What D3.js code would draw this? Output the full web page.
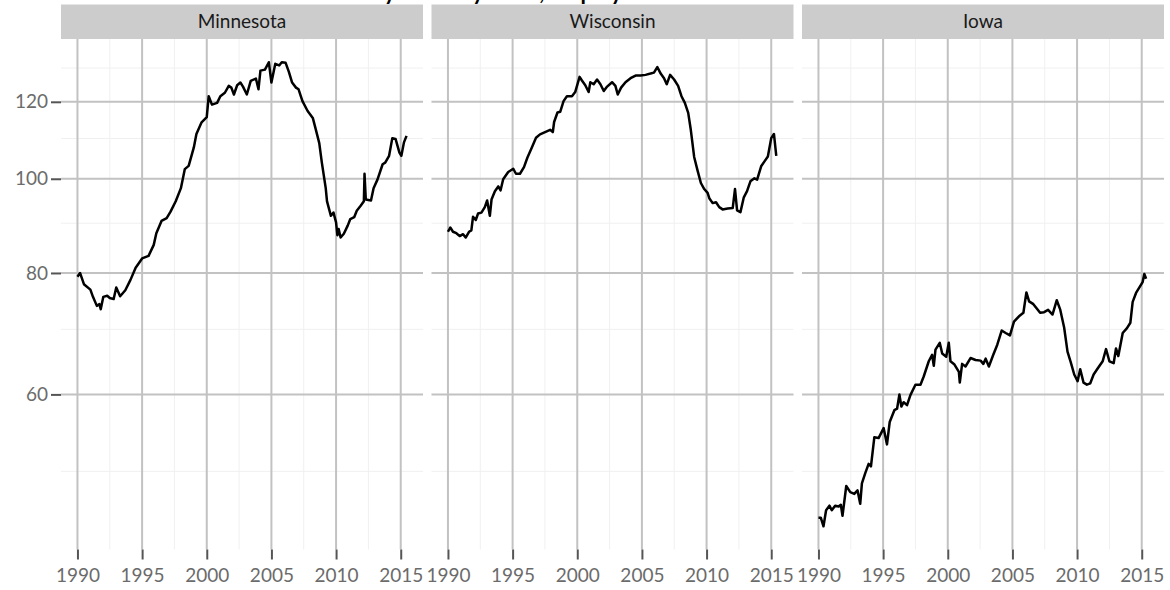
<!DOCTYPE html>
<html>
<head>
<meta charset="utf-8">
<script src="https://cdn.jsdelivr.net/npm/d3@7"></script>
<style>
  body { margin: 0; background: #fff; }
  text { font-family: Lato, "Open Sans", sans-serif; }
</style>
</head>
<body>
<svg id="chart" width="1170" height="590"></svg>
<script>
// chart data (year, value)
const states = ["Minnesota", "Wisconsin", "Iowa"];

const minnesota = [
  [1990.0, 79.3], [1990.2, 80.0], [1990.5, 77.9], [1991.0, 76.9], [1991.2, 75.6], [1991.5, 74.0],
  [1991.7, 74.3], [1991.8, 73.4], [1992.0, 75.6], [1992.3, 75.8], [1992.5, 75.4], [1992.8, 75.2],
  [1993.0, 77.3], [1993.3, 75.7], [1993.7, 76.8], [1994.1, 78.7], [1994.5, 81.0], [1995.0, 82.8],
  [1995.5, 83.3], [1995.9, 85.5], [1996.1, 87.9], [1996.5, 90.5], [1996.9, 91.1], [1997.2, 92.5],
  [1997.6, 94.8], [1998.0, 97.8], [1998.3, 102.3], [1998.6, 103.1], [1999.0, 107.7], [1999.2, 111.2],
  [1999.6, 114.3], [2000.0, 115.7], [2000.15, 121.6], [2000.4, 119.2], [2000.8, 119.7], [2001.05, 121.6],
  [2001.4, 122.6], [2001.7, 124.6], [2001.9, 124.1], [2002.1, 122.1], [2002.35, 124.8], [2002.6, 125.6],
  [2002.8, 124.4], [2003.1, 122.1], [2003.4, 126.1], [2003.8, 126.8], [2004.0, 123.6], [2004.15, 129.2],
  [2004.5, 129.5], [2004.8, 131.8], [2005.0, 125.6], [2005.3, 131.3], [2005.6, 130.8], [2005.8, 131.8],
  [2006.1, 131.6], [2006.35, 128.8], [2006.6, 125.6], [2006.9, 124.1], [2007.1, 123.6], [2007.4, 120.2],
  [2007.8, 117.4], [2008.2, 115.5], [2008.4, 112.8], [2008.7, 108.8], [2008.9, 103.9], [2009.2, 97.8],
  [2009.3, 94.8], [2009.6, 91.6], [2009.8, 92.3], [2010.0, 90.2], [2010.1, 87.5], [2010.2, 88.8],
  [2010.35, 87.0], [2010.6, 87.8], [2010.9, 89.5], [2011.1, 90.9], [2011.4, 91.3], [2011.6, 92.7],
  [2011.9, 93.8], [2012.15, 94.8], [2012.2, 101.2], [2012.3, 95.2], [2012.7, 95.0], [2012.9, 97.8],
  [2013.2, 99.8], [2013.6, 103.5], [2013.8, 103.9], [2014.1, 105.6], [2014.35, 110.1], [2014.6, 109.9],
  [2014.9, 106.4], [2015.05, 105.6], [2015.25, 109.0], [2015.45, 110.7]
];

const wisconsin = [
  [1990.0, 88.2], [1990.18, 89.1], [1990.39, 88.2], [1990.65, 87.9], [1990.91, 87.3], [1991.17, 87.7],
  [1991.37, 87.0], [1991.63, 88.2], [1991.81, 88.5], [1991.94, 91.4], [1992.15, 90.7], [1992.33, 92.1],
  [1992.59, 92.3], [1992.85, 93.5], [1993.03, 95.0], [1993.24, 91.6], [1993.37, 95.2], [1993.63, 97.1],
  [1993.89, 98.2], [1994.07, 97.3], [1994.27, 99.9], [1994.66, 101.6], [1995.05, 102.4], [1995.26, 101.2],
  [1995.57, 101.2], [1995.88, 102.8], [1996.14, 105.1], [1996.48, 107.6], [1996.81, 110.2], [1997.12, 111.1],
  [1997.51, 111.7], [1997.9, 112.3], [1998.11, 111.7], [1998.21, 114.4], [1998.47, 117.0], [1998.68, 117.2],
  [1998.94, 120.2], [1999.2, 121.6], [1999.59, 121.6], [1999.84, 122.8], [2000.18, 127.3], [2000.36, 126.2],
  [2000.62, 124.8], [2000.88, 122.8], [2001.01, 125.7], [2001.27, 125.1], [2001.53, 126.5], [2001.79, 125.1],
  [2002.05, 123.1], [2002.31, 124.4], [2002.69, 125.7], [2002.95, 124.6], [2003.13, 122.1], [2003.39, 124.1],
  [2003.73, 125.7], [2004.12, 126.9], [2004.51, 127.7], [2004.9, 127.7], [2005.28, 127.9], [2005.67, 128.3],
  [2005.93, 128.6], [2006.19, 130.3], [2006.45, 128.3], [2006.71, 126.9], [2006.92, 125.1], [2007.18, 127.9],
  [2007.49, 126.5], [2007.8, 124.6], [2008.06, 121.6], [2008.32, 119.7], [2008.58, 116.9], [2008.78, 112.3],
  [2009.04, 105.3], [2009.3, 102.0], [2009.56, 99.0], [2009.82, 97.6], [2010.08, 96.7], [2010.21, 95.5],
  [2010.47, 94.4], [2010.73, 94.6], [2010.98, 93.5], [2011.24, 93.0], [2011.63, 93.2], [2012.02, 93.3],
  [2012.2, 97.6], [2012.36, 92.8], [2012.62, 92.4], [2012.88, 95.7], [2013.13, 97.1], [2013.39, 99.4],
  [2013.7, 100.1], [2013.91, 99.8], [2014.22, 103.0], [2014.48, 104.2], [2014.74, 105.4], [2015.0, 110.1],
  [2015.21, 111.2], [2015.39, 105.6]
];

const iowa = [
  [1990.0, 44.8], [1990.18, 44.8], [1990.39, 43.9], [1990.59, 45.6], [1990.85, 46.1], [1991.03, 45.6],
  [1991.29, 46.1], [1991.55, 46.0], [1991.73, 46.2], [1991.86, 45.0], [1992.15, 48.3], [1992.46, 47.6],
  [1992.77, 47.4], [1993.02, 47.8], [1993.23, 46.3], [1993.36, 48.6], [1993.62, 49.8], [1993.88, 50.9],
  [1994.06, 50.6], [1994.32, 54.2], [1994.65, 54.1], [1995.04, 55.4], [1995.3, 53.3], [1995.51, 56.2],
  [1995.87, 57.8], [1996.08, 58.0], [1996.26, 60.0], [1996.41, 58.3], [1996.59, 58.9], [1996.85, 58.5],
  [1997.11, 59.9], [1997.5, 61.4], [1997.89, 61.4], [1998.14, 62.6], [1998.53, 64.9], [1998.79, 65.9],
  [1998.92, 64.2], [1999.05, 66.7], [1999.38, 67.8], [1999.57, 66.1], [1999.88, 65.6], [2000.08, 67.8],
  [2000.21, 64.9], [2000.52, 64.4], [2000.86, 63.3], [2000.93, 61.7], [2001.11, 64.5], [2001.37, 64.1],
  [2001.76, 65.4], [2002.15, 65.1], [2002.54, 65.0], [2002.75, 64.5], [2002.93, 65.3], [2003.18, 64.1],
  [2003.52, 65.9], [2003.83, 67.5], [2004.17, 69.8], [2004.48, 69.4], [2004.81, 69.0], [2005.12, 71.3],
  [2005.51, 72.2], [2005.85, 72.8], [2006.08, 76.4], [2006.29, 74.8], [2006.62, 74.3], [2006.93, 73.4],
  [2007.14, 72.8], [2007.45, 72.9], [2007.76, 73.3], [2008.1, 72.5], [2008.43, 75.0], [2008.69, 73.4],
  [2009.0, 70.3], [2009.26, 66.4], [2009.52, 64.7], [2009.78, 62.9], [2010.04, 61.9], [2010.24, 63.7],
  [2010.5, 61.7], [2010.76, 61.4], [2011.02, 61.6], [2011.28, 62.9], [2011.59, 63.8], [2011.98, 64.9],
  [2012.24, 66.8], [2012.5, 64.9], [2012.83, 64.6], [2013.01, 66.9], [2013.19, 65.7], [2013.53, 69.4],
  [2013.86, 70.2], [2014.12, 71.1], [2014.3, 74.7], [2014.56, 76.3], [2014.82, 77.3], [2015.07, 78.3],
  [2015.2, 79.8], [2015.34, 78.9]
];

const seriesByState = [minnesota, wisconsin, iowa];

const yTicks = [60, 80, 100, 120];
const yMinor = [50, 70, 90, 110, 130];
const xTicks = [1990, 1995, 2000, 2005, 2010, 2015];
const xMinor = [1992.5, 1997.5, 2002.5, 2007.5, 2012.5];

const titleText = "Monthly Index by State, Employment in Construction";

const svg = d3.select("#chart");
const panelTop = 39;
const panelBottom = 549.5;
const panelLeft = 61;
const panelWidth = 362;
const panelGap = 8.5;

// shared scales, 5% expansion like ggplot
const allPoints = seriesByState.flat();
const xExt = d3.extent(allPoints, d => d[0]);
const xPad = (xExt[1] - xExt[0]) * 0.05;
const logExt = d3.extent(allPoints, d => Math.log(d[1]));
const logPad = (logExt[1] - logExt[0]) * 0.05;

const xScale = d3.scaleLinear()
    .domain([xExt[0] - xPad, xExt[1] + xPad])
    .range([0, panelWidth]);

const yScale = d3.scaleLog()
    .domain([Math.exp(logExt[0] - logPad), Math.exp(logExt[1] + logPad)])
    .range([panelBottom, panelTop]);

const line = d3.line()
    .x(d => xScale(d[0]))
    .y(d => yScale(d[1]));

states.forEach((state, i) => {
    const px = panelLeft + i * (panelWidth + panelGap);
    const g = svg.append("g").attr("transform", `translate(${px},0)`);

    // minor grid
    g.selectAll(".ymin").data(yMinor).enter().append("line")
        .attr("x1", 0).attr("x2", panelWidth)
        .attr("y1", d => yScale(d)).attr("y2", d => yScale(d))
        .attr("stroke", "#f0f0f0").attr("stroke-width", 1);
    g.selectAll(".xmin").data(xMinor).enter().append("line")
        .attr("x1", d => xScale(d)).attr("x2", d => xScale(d))
        .attr("y1", panelTop).attr("y2", panelBottom)
        .attr("stroke", "#f0f0f0").attr("stroke-width", 1);

    // major grid
    g.selectAll(".ymaj").data(yTicks).enter().append("line")
        .attr("x1", 0).attr("x2", panelWidth)
        .attr("y1", d => yScale(d)).attr("y2", d => yScale(d))
        .attr("stroke", "#c2c2c2").attr("stroke-width", 2);
    g.selectAll(".xmaj").data(xTicks).enter().append("line")
        .attr("x1", d => xScale(d)).attr("x2", d => xScale(d))
        .attr("y1", panelTop).attr("y2", panelBottom)
        .attr("stroke", "#c2c2c2").attr("stroke-width", 2);

    g.append("path")
        .datum(seriesByState[i])
        .attr("d", line)
        .attr("fill", "none")
        .attr("stroke", "#000")
        .attr("stroke-width", 2.5)
        .attr("stroke-linejoin", "round");

    // strip
    g.append("rect")
        .attr("x", 0).attr("y", 4.5)
        .attr("width", panelWidth).attr("height", panelTop - 4.5)
        .attr("fill", "#cccccc");
    g.append("text")
        .attr("x", panelWidth / 2).attr("y", 28)
        .attr("text-anchor", "middle")
        .style("font-size", "19px")
        .attr("fill", "#1a1a1a")
        .text(state);

    // x axis
    const xAxis = g.append("g")
        .attr("transform", `translate(0,${panelBottom})`)
        .call(d3.axisBottom(xScale).tickValues(xTicks).tickFormat(d3.format("d"))
            .tickSize(10).tickPadding(9));
    xAxis.select(".domain").remove();
    xAxis.selectAll("line").attr("stroke", "#555").attr("stroke-width", 2);
    xAxis.selectAll("text").attr("fill", "#6b6b6b").style("font-size", "19px")
        .style("font-family", "Lato, 'Open Sans', sans-serif");

    if (i === 0) {
        const yAxis = g.append("g")
            .call(d3.axisLeft(yScale).tickValues(yTicks).tickFormat(d3.format("d"))
                .tickSize(10).tickPadding(3));
        yAxis.select(".domain").remove();
        yAxis.selectAll("line").attr("stroke", "#555").attr("stroke-width", 2);
        yAxis.selectAll("text").attr("fill", "#6b6b6b").style("font-size", "19px")
            .style("font-family", "Lato, 'Open Sans', sans-serif");
    }
});

// title sits above the picture, only its descenders show
const title = svg.append("text")
    .attr("x", 0).attr("y", 0)
    .style("font-size", "22px")
    .style("font-weight", "bold")
    .attr("fill", "#000")
    .text(titleText);
const yIdx = titleText.indexOf("y");
const shift = 384 - title.node().getStartPositionOfChar(yIdx).x;
title.attr("x", shift);
</script>
</body>
</html>
